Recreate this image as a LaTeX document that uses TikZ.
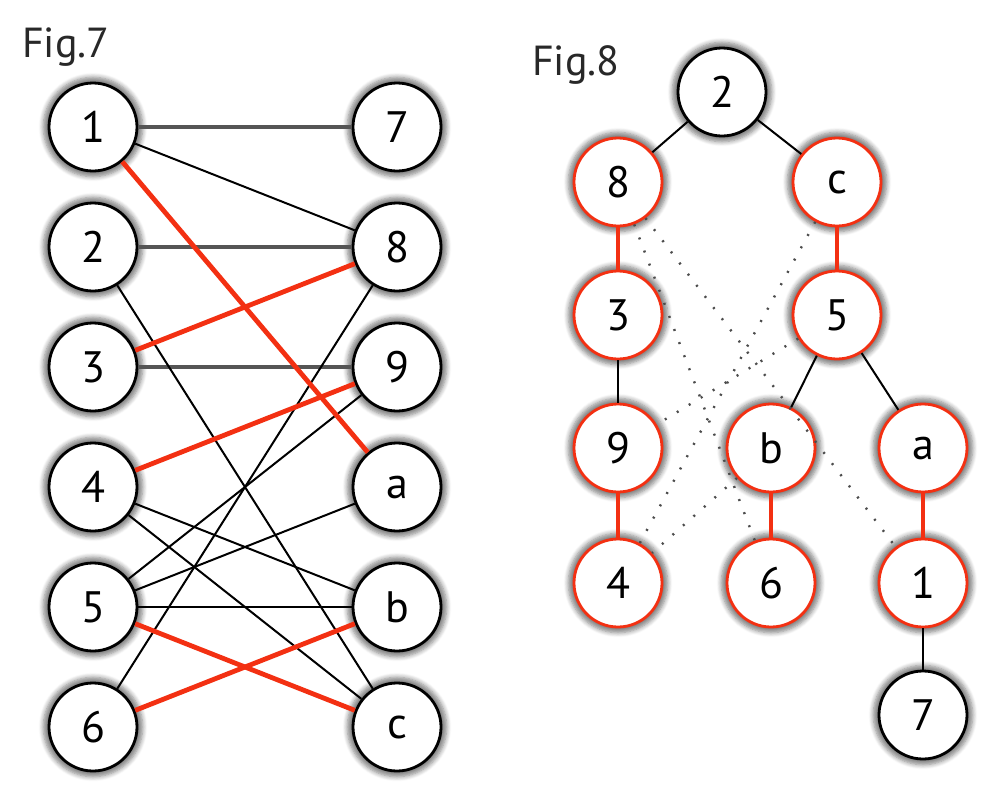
\documentclass[tikz,border=0pt]{standalone}
\usepackage{fontspec}
\setmainfont{PT Sans}
\usepackage{xcolor}
\usetikzlibrary{positioning, shadows.blur}
\definecolor{matchred}{RGB}{243,48,18}
\definecolor{edgegray}{RGB}{85,85,85}
\definecolor{labelgray}{RGB}{40,40,40}

\begin{document}
\begin{tikzpicture}[
    x=0.5pt, y=-0.5pt,
    node distance=60pt and 152pt, on grid,
    vertex/.style={circle, draw=black, line width=1.4pt, fill=white, minimum size=44pt, inner sep=0pt,
        font=\fontsize{22}{22}\selectfont,
        blur shadow={shadow xshift=0pt, shadow yshift=0pt, shadow scale=1.13, shadow blur steps=6, shadow opacity=50}},
    matched/.style={vertex, draw=matchred},
    figlabel/.style={anchor=base west, font=\fontsize{21}{21}\selectfont, text=labelgray},
    edge/.style={line width=1pt},
    heavy/.style={line width=2pt, draw=edgegray},
    match/.style={line width=2.4pt, draw=matchred},
    nontree/.style={line width=1.2pt, draw=black!70, dash pattern=on 1pt off 6pt}
]
\useasboundingbox (0,0) rectangle (1002,798);

% Fig.7
\node[figlabel] (fig7) at (15,57) {Fig.7};

\node[vertex] (l1) at (93,127) {1};
\node[vertex, below=of l1] (l2) {2};
\node[vertex, below=of l2] (l3) {3};
\node[vertex, below=of l3] (l4) {4};
\node[vertex, below=of l4] (l5) {5};
\node[vertex, below=of l5] (l6) {6};

\node[vertex, right=of l1] (r7) {7};
\node[vertex, below=of r7] (r8) {8};
\node[vertex, below=of r8] (r9) {9};
\node[vertex, below=of r9] (ra) {a};
\node[vertex, below=of ra] (rb) {b};
\node[vertex, below=of rb] (rc) {c};

\draw[heavy] (l1) -- (r7);
\draw[heavy] (l2) -- (r8);
\draw[heavy] (l3) -- (r9);
\draw[edge] (l1) -- (r8);
\draw[edge] (l2) -- (rc);
\draw[edge] (l4) -- (rb);
\draw[edge] (l4) -- (rc);
\draw[edge] (l5) -- (r9);
\draw[edge] (l5) -- (ra);
\draw[edge] (l5) -- (rb);
\draw[edge] (l6) -- (r8);
\draw[match] (l1) -- (ra);
\draw[match] (l3) -- (r8);
\draw[match] (l4) -- (r9);
\draw[match] (l5) -- (rc);
\draw[match] (l6) -- (rb);

% Fig.8
\node[figlabel] (fig8) at (525,75) {Fig.8};

\node[vertex] (t2) at (722,92) {2};
\node[matched] (t8) at (618,182) {8};
\node[matched] (tc) at (837,182) {c};
\node[matched] (t3) at (618,315) {3};
\node[matched] (t5) at (837,315) {5};
\node[matched] (t9) at (618,448) {9};
\node[matched] (tb) at (771,448) {b};
\node[matched] (ta) at (923,448) {a};
\node[matched] (t4) at (618,583) {4};
\node[matched] (t6) at (771,583) {6};
\node[matched] (t1) at (923,583) {1};
\node[vertex] (t7) at (923,715) {7};

\draw[edge] (t2) -- (t8);
\draw[edge] (t2) -- (tc);
\draw[edge] (t3) -- (t9);
\draw[edge] (t5) -- (tb);
\draw[edge] (t5) -- (ta);
\draw[edge] (t1) -- (t7);
\draw[match] (t8) -- (t3);
\draw[match] (tc) -- (t5);
\draw[match] (t9) -- (t4);
\draw[match] (tb) -- (t6);
\draw[match] (ta) -- (t1);

\draw[nontree] (t8) -- (t6);
\draw[nontree] (t8) -- (t1);
\draw[nontree] (tc) -- (t4);
\draw[nontree] (t5) -- (t9);
\draw[nontree] (tb) -- (t4);

\end{tikzpicture}
\end{document}
